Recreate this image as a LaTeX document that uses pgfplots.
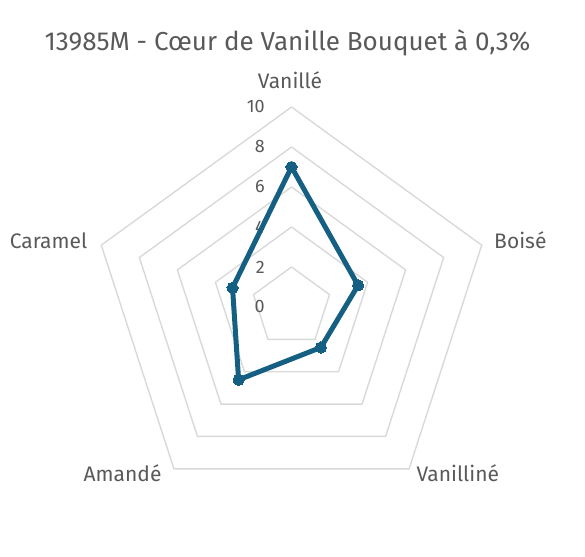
\documentclass[border=0pt]{standalone}
\usepackage{pgfplots}
\pgfplotsset{compat=1.18}
\usepackage{fontspec}
\setmainfont{Fira Sans}
\definecolor{serie}{HTML}{156082}
\definecolor{grille}{HTML}{D9D9D9}
\definecolor{texte}{HTML}{595959}
\begin{document}
\begin{tikzpicture}
\begin{axis}[
  scale only axis,
  width=585pt, height=556pt,
  xmin=-14.575, xmax=14.675,
  ymin=-12.45, ymax=15.35,
  hide axis, clip=false,
  grid line/.style={draw=grille, line width=1.4pt, data cs=polar, mark=none, line join=miter},
]
% anneaux du radar (0 a 10)
\addplot[grid line] coordinates {(90,2) (18,2) (-54,2) (-126,2) (162,2) (90,2)};
\addplot[grid line] coordinates {(90,4) (18,4) (-54,4) (-126,4) (162,4) (90,4)};
\addplot[grid line] coordinates {(90,6) (18,6) (-54,6) (-126,6) (162,6) (90,6)};
\addplot[grid line] coordinates {(90,8) (18,8) (-54,8) (-126,8) (162,8) (90,8)};
\addplot[grid line] coordinates {(90,10) (18,10) (-54,10) (-126,10) (162,10) (90,10)};

% valeurs de l'axe
\pgfplotsinvokeforeach{0,2,4,6,8,10}{
  \node[anchor=east, text=texte, font=\fontsize{18}{18}\selectfont] at (axis cs:-1.16,#1) {#1};
}

% serie : Vanille, Boise, Vanilline, Amande, Caramel
\addplot[serie, line width=5pt, line join=round, data cs=polar,
  mark=*, mark size=5.6pt, mark options={fill=serie, draw=serie, line width=0pt}]
  coordinates {(90,7) (18,3.5) (-54,2.5) (-126,4.5) (162,3.1) (90,7)};

% etiquettes des categories
\tikzset{cat/.style={text=texte, font=\fontsize{21}{21}\selectfont}}
\node[cat, anchor=base] at (axis cs:-0.075,10.935) {Vanillé};
\node[cat, anchor=base west] at (axis cs:9.96,2.935) {Boisé};
\node[cat, anchor=base west] at (axis cs:6.075,-8.735) {Vanilliné};
\node[cat, anchor=base east] at (axis cs:-6.325,-8.735) {Amandé};
\node[cat, anchor=base east] at (axis cs:-10.04,2.935) {Caramel};

% titre
\node[anchor=base, text=texte, font=\fontsize{26}{26}\selectfont] at (axis cs:-0.2,12.825)
  {13985M - Cœur de Vanille Bouquet à 0,3\%};
\end{axis}
\pgfresetboundingbox
\path[use as bounding box] (current axis.south west) rectangle (current axis.north east);
\end{tikzpicture}
\end{document}
